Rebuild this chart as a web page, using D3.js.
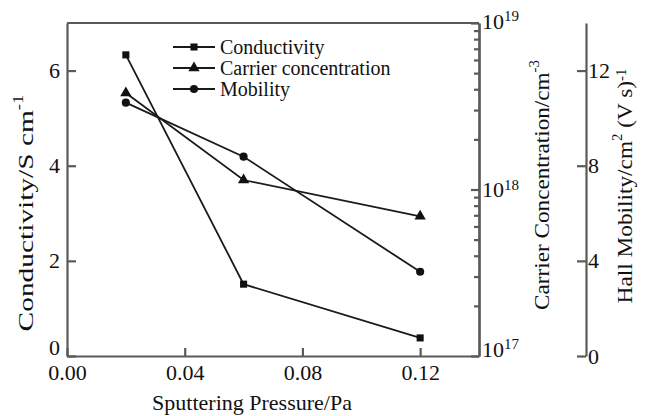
<!DOCTYPE html>
<html>
<head>
<meta charset="utf-8">
<script src="https://cdn.jsdelivr.net/npm/d3@7"></script>
</head>
<body style="margin:0;background:#fff">
<svg id="chart" width="648" height="416" style="display:block;font-family:'Liberation Serif', serif"></svg>
<script>
// values
var pressure = [0.02, 0.06, 0.12];
var conductivity = [6.33, 1.51, 0.38];
var carrier = [3.8e18, 1.14e18, 6.9e17];
var mobility = [10.65, 8.38, 3.54];

var xTicks = [0, 0.04, 0.08, 0.12];
var condTicks = [0, 2, 4, 6];
var mobTicks = [0, 4, 8, 12];
var carrierTicks = [1e17, 1e18, 1e19];
var legendLabels = ["Conductivity", "Carrier concentration", "Mobility"];

var FONT = "'Liberation Serif', serif";
var AXIS_COLOR = "#5a5a5a";

var W = 648, H = 416;
var margin = { top: 23, right: 169, bottom: 60, left: 67 };
var iw = W - margin.left - margin.right,
  ih = H - margin.top - margin.bottom;

var svg = d3.select("#chart");
var g = svg.append("g").attr("transform", "translate(" + margin.left + "," + margin.top + ")");

var x = d3.scaleLinear().domain([0, 0.14]).range([0, iw]);
var yCond = d3.scaleLinear().domain([0, 7]).range([ih, 0]);
var yCar = d3.scaleLog().domain([1e17, 1e19]).range([ih, 0]);
var yMob = d3.scaleLinear().domain([0, 14]).range([ih, 0]);

function styleAxis(sel) {
  sel.attr("font-family", null).attr("font-size", null);
  sel.selectAll("path, line").attr("stroke", AXIS_COLOR).attr("stroke-width", 2.2);
  sel.selectAll("text").attr("fill", "#111")
    .style("font-family", FONT).style("font-size", "22px");
  return sel;
}

// frame top edge
g.append("line")
  .attr("x1", 0).attr("x2", iw).attr("y1", 0).attr("y2", 0)
  .attr("stroke", AXIS_COLOR).attr("stroke-width", 2.2);

styleAxis(g.append("g")
  .attr("transform", "translate(0," + ih + ")")
  .call(d3.axisBottom(x).tickValues(xTicks).tickFormat(d3.format(".2f"))
    .tickSizeInner(-8).tickSizeOuter(0).tickPadding(8)));

var ya = styleAxis(g.append("g")
  .call(d3.axisLeft(yCond).tickValues(condTicks).tickFormat(d3.format("d"))
    .tickSizeInner(-9).tickSizeOuter(0).tickPadding(7)));
// lift the 0 so it clears 0.00
ya.selectAll(".tick").filter(function(d) { return d === 0; }).select("text").attr("y", -9);

// log axis on the right of the frame
var minor = [];
[1e17, 1e18].forEach(function(b) {
  for (var k = 2; k <= 9; k++) minor.push(b * k);
});
styleAxis(g.append("g")
  .attr("transform", "translate(" + iw + ",0)")
  .call(d3.axisRight(yCar).tickValues(minor).tickFormat("").tickSizeInner(-5).tickSizeOuter(0)));

var ca = styleAxis(g.append("g")
  .attr("transform", "translate(" + iw + ",0)")
  .call(d3.axisRight(yCar).tickValues(carrierTicks).tickFormat("").tickSizeInner(-8).tickSizeOuter(0).tickPadding(3)));
ca.selectAll(".tick text").each(function(d) {
  var t = d3.select(this).attr("dy", "0.32em");
  if (d === 1e17) t.attr("y", -7);
  if (d === 1e19) t.attr("y", -2);
  t.append("tspan").text("10");
  t.append("tspan").attr("dy", "-0.5em").style("font-size", "15px").text(Math.round(Math.log10(d)));
});

// separate mobility axis
var mobX = 586 - margin.left;
styleAxis(g.append("g")
  .attr("transform", "translate(" + mobX + ",0)")
  .call(d3.axisRight(yMob).tickValues(mobTicks).tickFormat(d3.format("d"))
    .tickSizeInner(-9).tickSizeOuter(0).tickPadding(2)));

// lines and markers
var series = [
  { name: legendLabels[0], y: yCond, values: conductivity, shape: d3.symbolSquare, size: 50 },
  { name: legendLabels[1], y: yCar, values: carrier, shape: d3.symbolTriangle, size: 55 },
  { name: legendLabels[2], y: yMob, values: mobility, shape: d3.symbolCircle, size: 52 }
];

series.forEach(function(s) {
  var pts = pressure.map(function(p, i) { return [x(p), s.y(s.values[i])]; });
  g.append("path")
    .attr("d", d3.line()(pts))
    .attr("fill", "none").attr("stroke", "#1a1a1a").attr("stroke-width", 1.8);
  g.selectAll(null).data(pts).enter().append("path")
    .attr("transform", function(d) { return "translate(" + d[0] + "," + d[1] + ")"; })
    .attr("d", d3.symbol().type(s.shape).size(s.size))
    .attr("fill", "#111");
});

// legend
var lg = svg.append("g").attr("transform", "translate(173,47)");
series.forEach(function(s, i) {
  var row = lg.append("g").attr("transform", "translate(0," + (i * 21) + ")");
  row.append("line").attr("x1", 0).attr("x2", 42).attr("stroke", "#1a1a1a").attr("stroke-width", 1.8);
  row.append("path").attr("transform", "translate(21,0)")
    .attr("d", d3.symbol().type(s.shape).size(s.size)).attr("fill", "#111");
  row.append("text").attr("x", 47).attr("dy", "0.33em")
    .style("font-family", FONT).style("font-size", "20px").attr("fill", "#111").text(s.name);
});

// axis titles
svg.append("text")
  .attr("x", 252).attr("y", 410).attr("text-anchor", "middle")
  .style("font-family", FONT).style("font-size", "22px").attr("fill", "#111")
  .text("Sputtering Pressure/Pa");

// parts: [text, dy, superscript?]
function vTitle(cx, cy, parts, len) {
  var t = svg.append("text")
    .attr("text-anchor", "middle")
    .style("font-family", FONT).style("font-size", "22px").attr("fill", "#111");
  parts.forEach(function(p) {
    var ts = t.append("tspan").text(p[0]);
    if (p[1]) ts.attr("dy", p[1]);
    if (p[2]) ts.style("font-size", "14px");
  });
  var w = t.node().getComputedTextLength();
  var sx = len ? len / w : 1;
  t.attr("transform", "translate(" + cx + "," + cy + ") rotate(-90) scale(" + sx + ",1)");
}

vTitle(33, 213, [["Conductivity/S cm"], ["-1", "-0.7em", true]], 237);
vTitle(549, 185, [["Carrier Concentration/cm"], ["-3", "-0.7em", true]], 250);
vTitle(632, 186, [["Hall Mobility/cm"], ["2", "-0.7em", true], [" (V s)", "0.45em"], ["-1", "-0.45em", true]], 235);
</script>
</body>
</html>
